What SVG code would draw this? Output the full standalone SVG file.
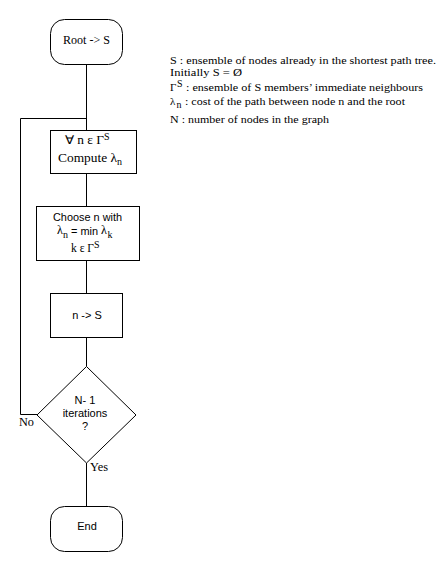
<svg xmlns="http://www.w3.org/2000/svg" width="439" height="572" viewBox="0 0 439 572">
<style>
.shape{fill:#fff;stroke:#000;stroke-width:1}
.line{fill:none;stroke:#000;stroke-width:1}
.serif{font-family:"Liberation Serif","Times New Roman",serif;font-size:12px;fill:#000}
.sans{font-family:"Liberation Sans",Arial,sans-serif;font-size:11px;fill:#000}
.mid{text-anchor:middle}
.sup{font-size:10px}
.leg{font-size:11px}
</style>
<rect width="439" height="572" fill="#fff"/>
<g id="connectors">
<line class="line" x1="86.5" y1="64.5" x2="86.5" y2="130.5"/>
<line class="line" x1="86.5" y1="173.5" x2="86.5" y2="206.5"/>
<line class="line" x1="86.5" y1="260.5" x2="86.5" y2="293.5"/>
<line class="line" x1="86.5" y1="337.5" x2="86.5" y2="366.5"/>
<line class="line" x1="86.5" y1="463" x2="86.5" y2="506.5"/>
<polyline class="line" points="37,414.5 20.5,414.5 20.5,118.5 86.5,118.5"/>
<text class="serif" x="19" y="426" textLength="15" lengthAdjust="spacingAndGlyphs">No</text>
<text class="serif" x="90" y="471" textLength="18" lengthAdjust="spacingAndGlyphs">Yes</text>
</g>
<g id="root">
<rect class="shape" x="50.5" y="19.5" width="72" height="45" rx="14"/>
<text class="serif" x="63" y="44" textLength="47" lengthAdjust="spacingAndGlyphs">Root -&gt; S</text>
</g>
<g id="compute">
<rect class="shape" x="50.5" y="130.5" width="86" height="43"/>
<text class="serif" x="65" y="144" textLength="39" lengthAdjust="spacingAndGlyphs">∀ n ε Γ</text>
<text class="serif sup" x="104" y="140">S</text>
<text class="serif" x="58" y="162" textLength="59" lengthAdjust="spacingAndGlyphs">Compute λ</text>
<text class="serif sup" x="117" y="165">n</text>
</g>
<g id="choose">
<rect class="shape" x="36.5" y="206.5" width="103" height="54"/>
<text class="sans" x="53" y="221" textLength="69" lengthAdjust="spacingAndGlyphs">Choose n with</text>
<text class="serif" x="57" y="234">λ</text>
<text class="serif sup" x="63" y="238">n</text>
<text class="sans" x="71" y="235" textLength="27" lengthAdjust="spacingAndGlyphs">= min</text>
<text class="serif" x="101" y="234">λ</text>
<text class="serif sup" x="107.5" y="238">k</text>
<text class="serif" x="71" y="252" textLength="23" lengthAdjust="spacingAndGlyphs">k ε Γ</text>
<text class="serif sup" x="94" y="248">S</text>
</g>
<g id="add">
<rect class="shape" x="50.5" y="293.5" width="72" height="44"/>
<text class="sans mid" x="87" y="319">n -&gt; S</text>
</g>
<g id="decision">
<polygon class="shape" points="86.5,366.5 136,415 86.5,463 37,415"/>
<text class="sans mid" x="85" y="404">N- 1</text>
<text class="sans mid" x="85" y="417">iterations</text>
<text class="sans mid" x="85" y="430">?</text>
</g>
<g id="end">
<rect class="shape" x="50.5" y="506.5" width="72" height="45" rx="14"/>
<text class="sans mid" x="87" y="530">End</text>
</g>
<g id="legend">
<text class="serif leg" x="170" y="63.5" textLength="266" lengthAdjust="spacingAndGlyphs">S : ensemble of nodes already in the shortest path tree.</text>
<text class="serif leg" x="170" y="76" textLength="72" lengthAdjust="spacingAndGlyphs">Initially S = Ø</text>
<text class="serif leg" x="170" y="91">Γ</text>
<text class="serif sup" x="177" y="87">S</text>
<text class="serif leg" x="186" y="91" textLength="237" lengthAdjust="spacingAndGlyphs">: ensemble of S members’ immediate neighbours</text>
<text class="serif leg" x="170" y="105">λ</text>
<text class="serif sup" x="176.5" y="108">n</text>
<text class="serif leg" x="185" y="105" textLength="220" lengthAdjust="spacingAndGlyphs">: cost of the path between node n and the root</text>
<text class="serif leg" x="170" y="123" textLength="159" lengthAdjust="spacingAndGlyphs">N : number of nodes in the graph</text>
</g>
</svg>
